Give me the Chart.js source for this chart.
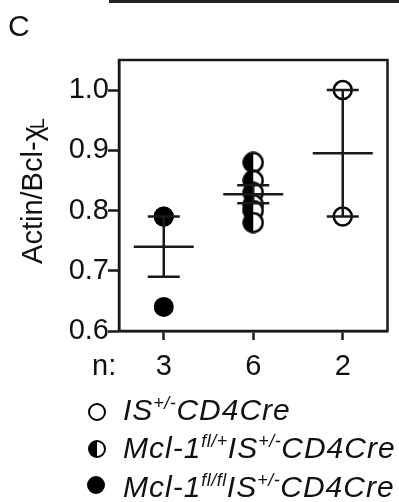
<!DOCTYPE html>
<html>
<head>
<meta charset="utf-8">
<script src="https://cdn.jsdelivr.net/npm/chart.js@4.4.0/dist/chart.umd.min.js"></script>
<style>
  body { margin: 0; background: #fff; }
  #wrap { position: relative; width: 399px; height: 502px; overflow: hidden;
          font-family: "Liberation Sans", Arial, sans-serif; color: #111; }
  #chart { position: absolute; left: 0; top: 0; }
  .abs { position: absolute; white-space: nowrap; }
  .prev { left: 109px; top: 0; width: 290px; height: 3px; background: #222; }
  .panel { left: 8px; top: 9px; font-size: 30px; line-height: 34px; }
  .ytitle { left: -68px; top: 173px; width: 200px; height: 36px; line-height: 36px;
            text-align: center; font-size: 29px; transform: rotate(-90deg); }
  .ytitle sub { font-size: 20px; position: relative; top: 2px; vertical-align: baseline; margin-left: -3px; }
  .nlab { left: 92px; top: 348px; font-size: 29px; line-height: 34px; }
  .leg { left: 123px; font-size: 30px; line-height: 34px; font-style: italic; letter-spacing: 1px; }
  .leg sup { font-size: 18px; position: relative; top: -11px; vertical-align: baseline; letter-spacing: 0.5px; }
  .mk { position: absolute; width: 14px; height: 14px; border-radius: 50%;
        border: 2.5px solid #000; background: #fff; }
</style>
</head>
<body>
<div id="wrap">
  <canvas id="chart" width="399" height="502"></canvas>
  <div class="abs prev"></div>
  <div class="abs panel">C</div>
  <div class="abs ytitle">Actin/Bcl-χ<sub>L</sub></div>
  <div class="abs nlab">n:</div>

  <span class="mk" style="left:88px; top:403px;"></span>
  <div class="abs leg" style="top:393px;">IS<sup>+/-</sup>CD4Cre</div>
  <span class="mk" style="left:88px; top:440px; background:linear-gradient(90deg,#000 50%,#fff 50%);"></span>
  <div class="abs leg" style="top:431px;">Mcl-1<sup>fl/+</sup>IS<sup>+/-</sup>CD4Cre</div>
  <span class="mk" style="left:87px; top:476px; background:#000;"></span>
  <div class="abs leg" style="top:470px;">Mcl-1<sup>fl/fl</sup>IS<sup>+/-</sup>CD4Cre</div>
</div>

<script>
// values
const nLabels = ['3', '6', '2'];
const yTicks = [0.6, 0.7, 0.8, 0.9, 1.0];
const floxFlox = [0.79, 0.79, 0.64];                  // Mcl-1 fl/fl, x = 0
const floxPlus = [0.88, 0.85, 0.83, 0.81, 0.80, 0.78]; // Mcl-1 fl/+, x = 1
const isOnly = [1.0, 0.79];                            // IS+/- only, x = 2
const means = [0.74, 0.827, 0.895];
const sems = [0.05, 0.015, 0.105];

const ink = '#1a1a1a';
const font = { family: '"Liberation Sans", Arial, sans-serif', size: 29 };

// half filled marker
function halfDot(r) {
  const c = document.createElement('canvas');
  const s = Math.ceil(r * 2 + 3);
  c.width = s; c.height = s;
  const g = c.getContext('2d');
  const m = s / 2;
  g.beginPath(); g.arc(m, m, r, 0, Math.PI * 2);
  g.fillStyle = '#fff'; g.fill();
  g.beginPath(); g.arc(m, m, r, Math.PI / 2, Math.PI * 1.5);
  g.fillStyle = '#000'; g.fill();
  g.beginPath(); g.arc(m, m, r, 0, Math.PI * 2);
  g.lineWidth = 2.5; g.strokeStyle = '#000'; g.stroke();
  return c;
}

const frame = {
  id: 'frame',
  afterDatasetsDraw(chart) {
    const { ctx, chartArea: a, scales: { x, y } } = chart;
    ctx.save();
    ctx.strokeStyle = ink;
    ctx.lineWidth = 2.5;
    // mean and SEM
    means.forEach((m, i) => {
      const px = x.getPixelForValue(i);
      const pm = y.getPixelForValue(m);
      const hi = y.getPixelForValue(m + sems[i]);
      const lo = y.getPixelForValue(m - sems[i]);
      ctx.beginPath();
      ctx.moveTo(px - 30, pm); ctx.lineTo(px + 30, pm);
      ctx.moveTo(px, hi); ctx.lineTo(px, lo);
      ctx.moveTo(px - 16, hi); ctx.lineTo(px + 16, hi);
      ctx.moveTo(px - 16, lo); ctx.lineTo(px + 16, lo);
      ctx.stroke();
    });
    ctx.strokeRect(a.left, a.top, a.right - a.left, a.bottom - a.top);
    ctx.restore();
  }
};

new Chart(document.getElementById('chart'), {
  type: 'scatter',
  data: {
    datasets: [{
      data: floxFlox.map(v => ({ x: 0, y: v })),
      pointStyle: 'circle', pointRadius: 10, backgroundColor: '#000', borderColor: '#000', borderWidth: 0
    }, {
      data: floxPlus.map(v => ({ x: 1, y: v })),
      pointStyle: halfDot(9.5)
    }, {
      data: isOnly.map(v => ({ x: 2, y: v })),
      pointStyle: 'circle', pointRadius: 9, backgroundColor: 'rgba(0,0,0,0)', borderColor: '#000', borderWidth: 2.5
    }]
  },
  options: {
    responsive: false,
    animation: false,
    events: [],
    layout: { padding: { left: 0, top: 60, right: 8, bottom: 0 } },
    plugins: { legend: { display: false }, tooltip: { enabled: false } },
    scales: {
      x: {
        type: 'linear', min: -0.5, max: 2.5,
        afterBuildTicks: s => { s.ticks = nLabels.map((_, i) => ({ value: i })); },
        afterFit: s => { s.height = 171; s.paddingLeft = 0; s.paddingRight = 0; },
        ticks: { callback: v => nLabels[v], font, color: '#111', padding: 10, maxRotation: 0 },
        grid: { drawOnChartArea: false, tickLength: 9, tickColor: ink, tickWidth: 2.5 },
        border: { color: ink, width: 2.5 }
      },
      y: {
        min: 0.6, max: 1.05,
        afterBuildTicks: s => { s.ticks = yTicks.map(v => ({ value: v })); },
        afterFit: s => { s.width = 119; s.paddingTop = 0; s.paddingBottom = 0; },
        ticks: { callback: v => v.toFixed(1), font, color: '#111', padding: -1 },
        grid: { drawOnChartArea: false, tickLength: 11, tickColor: ink, tickWidth: 2.5 },
        border: { color: ink, width: 2.5 }
      }
    }
  },
  plugins: [frame]
});
</script>
</body>
</html>
